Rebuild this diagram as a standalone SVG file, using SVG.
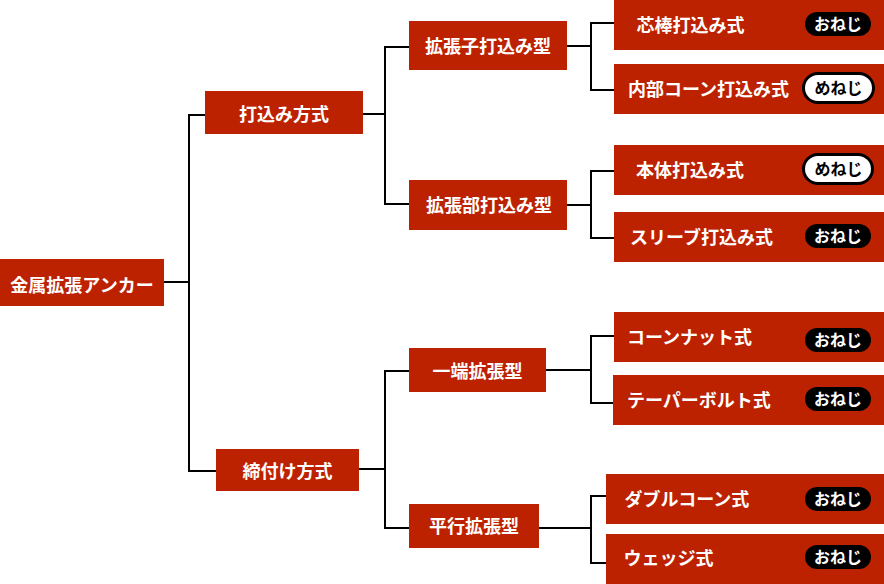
<svg xmlns="http://www.w3.org/2000/svg" width="884" height="584" viewBox="0 0 884 584">
<style>
.box{fill:#bd2200}
.t{font-family:"Noto Sans CJK JP","Noto Sans",sans-serif;font-weight:bold;font-size:18px;fill:#ffffff}
.c{text-anchor:middle}
.ln{fill:none;stroke:#000000;stroke-width:2}
.on{fill:#000000}
.me{fill:#ffffff;stroke:#000000;stroke-width:3}
.bt{font-family:"Noto Sans CJK JP","Noto Sans",sans-serif;font-weight:bold;font-size:16px;text-anchor:middle}
.bo{fill:#ffffff}
.bm{fill:#000000}
</style>
<rect width="884" height="584" fill="#ffffff"/>
<g id="connectors">
<path class="ln" d="M164,282 H189 M205,115 H189 V471 H216"/>
<path class="ln" d="M363,114 H385 M409,47 H385 V204 H409"/>
<path class="ln" d="M359,469 H385 M409,371 H385 V528 H409"/>
<path class="ln" d="M567,46 H591 M614,23 H591 V90 H614"/>
<path class="ln" d="M567,205 H591 M614,171 H591 V238 H614"/>
<path class="ln" d="M546,370 H591 M614,336 H591 V403 H613"/>
<path class="ln" d="M539,528 H591 M606,496 H591 V563 H606"/>
</g>
<g id="root">
<rect class="box" x="0" y="259" width="164" height="47"/>
<text class="t c" x="82" y="292">金属拡張アンカー</text>
</g>
<g id="uchikomi">
<rect class="box" x="205" y="91" width="158" height="43"/>
<text class="t c" x="284" y="121">打込み方式</text>
</g>
<g id="shimetsuke">
<rect class="box" x="216" y="449" width="143" height="42"/>
<text class="t c" x="287.5" y="478">締付け方式</text>
</g>
<g id="kakuchoshi">
<rect class="box" x="409" y="21" width="158" height="49"/>
<text class="t c" x="488" y="53">拡張子打込み型</text>
</g>
<g id="kakuchobu">
<rect class="box" x="409" y="180" width="158" height="50"/>
<text class="t c" x="489" y="212">拡張部打込み型</text>
</g>
<g id="ittan">
<rect class="box" x="409" y="348" width="137" height="44"/>
<text class="t c" x="477.5" y="378">一端拡張型</text>
</g>
<g id="heiko">
<rect class="box" x="409" y="504" width="130" height="44"/>
<text class="t c" x="474" y="533">平行拡張型</text>
</g>
<g id="shinbo">
<rect class="box" x="614" y="0" width="270" height="50"/>
<text class="t" x="636.5" y="32">芯棒打込み式</text>
<rect class="on" x="805" y="12" width="66" height="24" rx="12"/>
<text class="bt bo" x="838" y="30">おねじ</text>
</g>
<g id="naibu">
<rect class="box" x="614" y="64" width="270" height="50"/>
<text class="t" x="628" y="96">内部コーン打込み式</text>
<rect class="me" x="803.5" y="73.5" width="70" height="29" rx="14.5"/>
<text class="bt bm" x="838.5" y="94">めねじ</text>
</g>
<g id="hontai">
<rect class="box" x="614" y="145" width="270" height="50"/>
<text class="t" x="636" y="177">本体打込み式</text>
<rect class="me" x="803.5" y="154.5" width="69" height="29" rx="14.5"/>
<text class="bt bm" x="838.5" y="175">めねじ</text>
</g>
<g id="sleeve">
<rect class="box" x="614" y="212" width="270" height="50"/>
<text class="t" x="630" y="244">スリーブ打込み式</text>
<rect class="on" x="805" y="224" width="66" height="24" rx="12"/>
<text class="bt bo" x="838" y="242">おねじ</text>
</g>
<g id="conenut">
<rect class="box" x="614" y="312" width="270" height="50"/>
<text class="t" x="627" y="344">コーンナット式</text>
<rect class="on" x="805" y="328" width="66" height="24" rx="12"/>
<text class="bt bo" x="838" y="346">おねじ</text>
</g>
<g id="taper">
<rect class="box" x="613" y="375" width="271" height="50"/>
<text class="t" x="627" y="407">テーパーボルト式</text>
<rect class="on" x="805" y="387" width="66" height="24" rx="12"/>
<text class="bt bo" x="838" y="405">おねじ</text>
</g>
<g id="double">
<rect class="box" x="606" y="474" width="278" height="50"/>
<text class="t" x="624.5" y="506">ダブルコーン式</text>
<rect class="on" x="805" y="487" width="66" height="24" rx="12"/>
<text class="bt bo" x="838" y="505">おねじ</text>
</g>
<g id="wedge">
<rect class="box" x="606" y="534" width="278" height="50"/>
<text class="t" x="623.5" y="565">ウェッジ式</text>
<rect class="on" x="805" y="545" width="66" height="24" rx="12"/>
<text class="bt bo" x="838" y="563">おねじ</text>
</g>
</svg>
